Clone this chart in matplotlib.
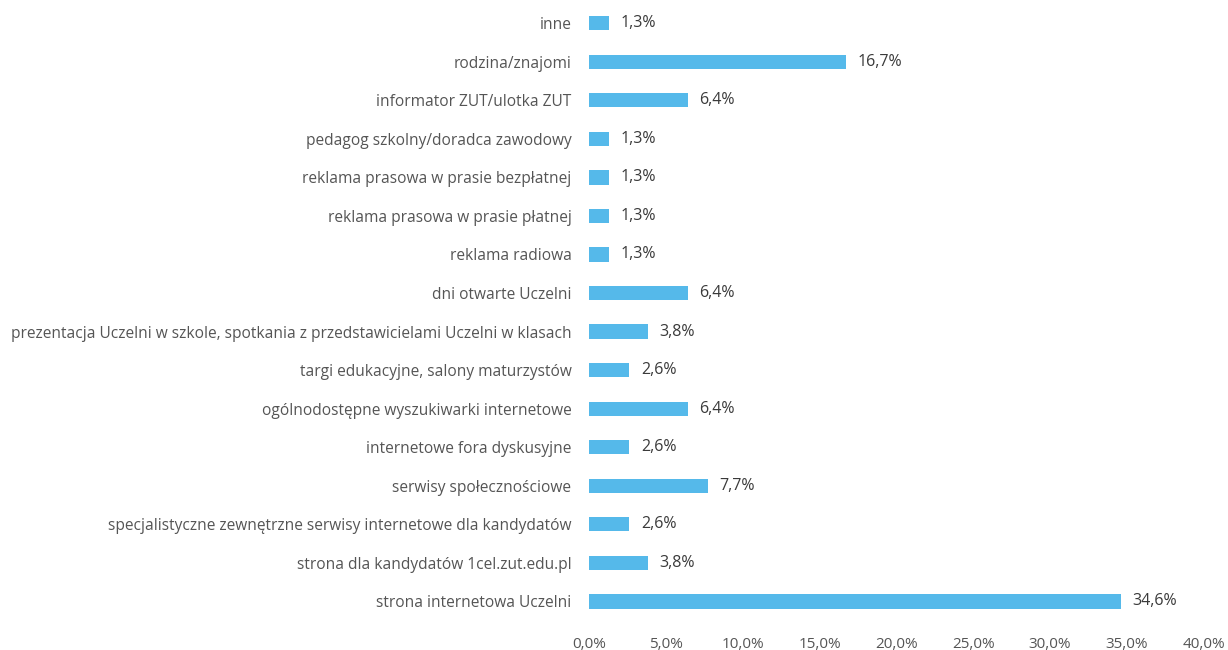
import matplotlib
matplotlib.use("Agg")
import matplotlib.pyplot as plt
from matplotlib.ticker import FuncFormatter

categories = [
    "strona internetowa Uczelni",
    "strona dla kandydatów 1cel.zut.edu.pl",
    "specjalistyczne zewnętrzne serwisy internetowe dla kandydatów",
    "serwisy społecznościowe",
    "internetowe fora dyskusyjne",
    "ogólnodostępne wyszukiwarki internetowe",
    "targi edukacyjne, salony maturzystów",
    "prezentacja Uczelni w szkole, spotkania z przedstawicielami Uczelni w klasach",
    "dni otwarte Uczelni",
    "reklama radiowa",
    "reklama prasowa w prasie płatnej",
    "reklama prasowa w prasie bezpłatnej",
    "pedagog szkolny/doradca zawodowy",
    "informator ZUT/ulotka ZUT",
    "rodzina/znajomi",
    "inne",
]
values = [34.6, 3.8, 2.6, 7.7, 2.6, 6.4, 2.6, 3.8, 6.4, 1.3, 1.3, 1.3, 1.3, 6.4, 16.7, 1.3]
xticks = [0, 5, 10, 15, 20, 25, 30, 35, 40]

plt.rcParams['font.family'] = ['Open Sans', 'DejaVu Sans']
text_color = '#555555'

fig = plt.figure(figsize=(12.28, 6.5), dpi=100)
ax = fig.add_axes([0.480, 0.045, 0.500, 0.949])

y = list(range(len(categories)))
ax.barh(y, values, height=0.37, color='#55b9ea', edgecolor='none')
ax.set_xlim(0, 40)
ax.set_ylim(-0.5, len(categories) - 0.5)
ax.set_yticks(y)
ax.set_yticklabels(categories, fontsize=11.2, color=text_color)
ax.set_xticks(xticks)
ax.xaxis.set_major_formatter(FuncFormatter(lambda v, p: f"{v:.1f}%".replace('.', ',')))
ax.tick_params(axis='x', labelsize=11, colors=text_color, length=0, pad=12)
ax.tick_params(axis='y', length=0, pad=13)
for s in ax.spines.values():
    s.set_visible(False)

for yi, v in zip(y, values):
    ax.text(v + 0.75, yi, f"{v:.1f}%".replace('.', ','), va='center', ha='left',
            fontsize=11.5, color='#3a3a3a')

fig.savefig("out.png", dpi=100)
